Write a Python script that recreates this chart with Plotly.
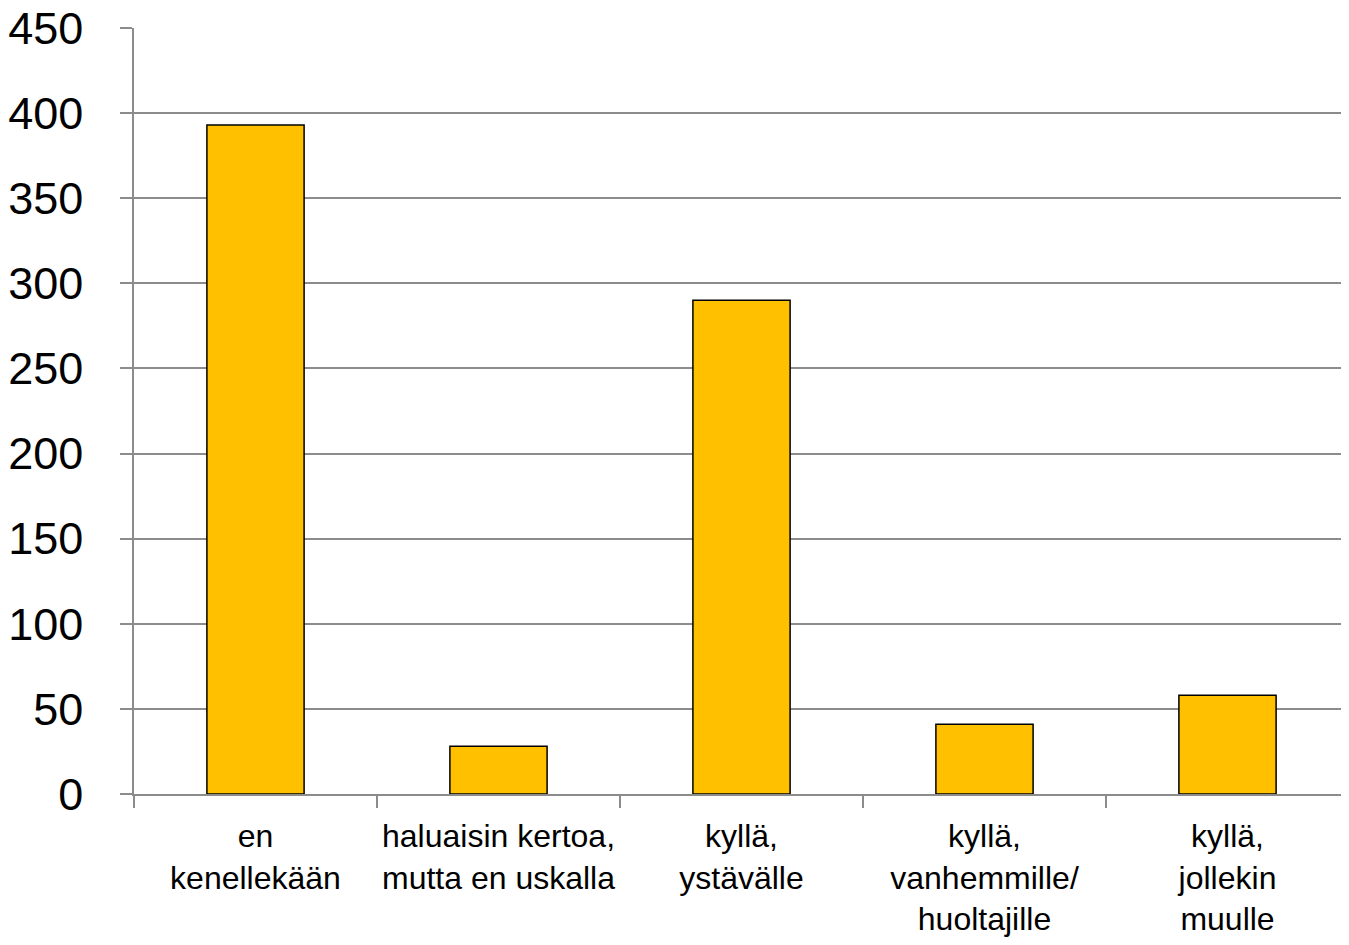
import plotly.graph_objects as go

categories = ["en<br>kenellekään", "haluaisin kertoa,<br>mutta en uskalla", "kyllä,<br>ystävälle",
              "kyllä,<br>vanhemmille/<br>huoltajille", "kyllä,<br>jollekin<br>muulle"]
values = [393, 28, 290, 41, 58]
y_ticks = [0, 50, 100, 150, 200, 250, 300, 350, 400, 450]

GRID = "#8c8c8c"

fig = go.Figure(go.Bar(
    x=categories, y=values,
    marker=dict(color="#FFC000", line=dict(color="#000000", width=1.5)),
))

fig.update_layout(
    width=1341, height=929,
    margin=dict(l=126, r=0, t=20, b=143),
    paper_bgcolor="white", plot_bgcolor="white",
    bargap=0.6,
    showlegend=False,
    font=dict(family="Liberation Sans, Arial, sans-serif", color="#000000"),
)
fig.update_xaxes(
    tickson="boundaries", ticks="outside", ticklen=12, tickcolor=GRID, tickwidth=1.5,
    showline=True, linecolor=GRID, linewidth=1.5, tickangle=0, automargin=False,
    tickfont=dict(size=32), showgrid=False, ticklabelstandoff=13,
)
fig.update_yaxes(
    range=[0, 450], tickvals=y_ticks, ticks="outside", ticklen=12, tickcolor=GRID, tickwidth=1.5,
    showline=True, linecolor=GRID, linewidth=1.5, automargin=False,
    showgrid=True, gridcolor=GRID, gridwidth=1.5, zeroline=False,
    tickfont=dict(size=45), ticklabelstandoff=28, ticklabeloverflow="allow",
)

fig.write_html("out.html")
